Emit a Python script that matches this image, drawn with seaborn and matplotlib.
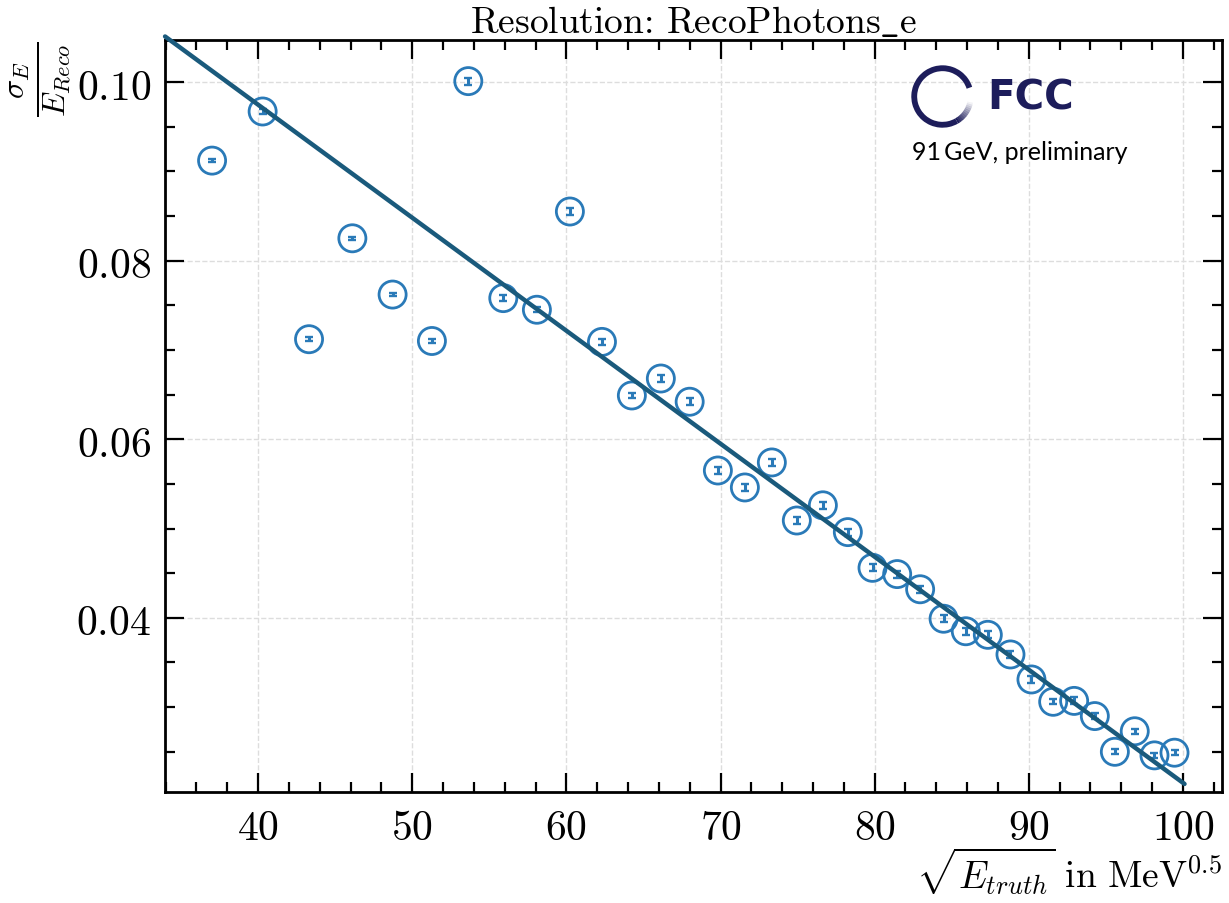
import numpy as np
import pandas as pd
import matplotlib
matplotlib.use("Agg")
import matplotlib.pyplot as plt
import seaborn as sns
from matplotlib.patches import Arc
from matplotlib.ticker import MultipleLocator, FuncFormatter

# data: sqrt(E_truth) vs relative resolution
sqrt_e = [37.02, 40.30, 43.31, 46.12, 48.73, 51.28, 53.64, 55.91, 58.09, 60.23,
          62.31, 64.25, 66.13, 68.00, 69.83, 71.58, 73.33, 74.95, 76.64, 78.26,
          79.86, 81.46, 82.95, 84.47, 85.91, 87.34, 88.81, 90.17, 91.58, 92.94,
          94.28, 95.58, 96.87, 98.15, 99.45]
resolution = [0.0912, 0.0967, 0.0712, 0.0825, 0.0762, 0.0710, 0.1001, 0.0758, 0.0745, 0.0855,
              0.0709, 0.0649, 0.0668, 0.0642, 0.0565, 0.0546, 0.0574, 0.0509, 0.0526, 0.0496,
              0.0456, 0.0449, 0.0432, 0.0399, 0.0385, 0.0381, 0.0359, 0.0331, 0.0306, 0.0307,
              0.0290, 0.0250, 0.0273, 0.0246, 0.0249]
res_err = [0.0002, 0.0003, 0.0002, 0.0002, 0.0002, 0.0002, 0.0004, 0.0003, 0.0003, 0.0004,
           0.0003, 0.0003, 0.0004, 0.0004, 0.0004, 0.0004, 0.0004, 0.0004, 0.0004, 0.0004,
           0.0004, 0.0004, 0.0004, 0.0004, 0.0004, 0.0004, 0.0004, 0.0004, 0.0003, 0.0004,
           0.0003, 0.0003, 0.0003, 0.0003, 0.0003]

# fitted line end points
fit_x = [33.97, 100.1]
fit_y = [0.1051, 0.0214]

df = pd.DataFrame({'x': sqrt_e, 'y': resolution, 'err': res_err})
fit = pd.DataFrame({'x': fit_x, 'y': fit_y})

sns.set_theme(style='ticks')
plt.rcParams['mathtext.fontset'] = 'cm'
plt.rcParams['font.family'] = ['DejaVu Serif']
plt.rcParams['text.color'] = 'black'
plt.rcParams['axes.labelcolor'] = 'black'

marker_col = '#2a7ab8'
line_col = '#1a5a7c'

fig = plt.figure(figsize=(12.29, 9.04), dpi=100)
ax = fig.add_axes([0.1343, 0.1228, 0.86, 0.8318])

ax.errorbar(df['x'], df['y'], yerr=df['err'], fmt='none', ecolor=marker_col,
            elinewidth=2.2, capsize=2.6, capthick=1.7, zorder=3)
sns.scatterplot(data=df, x='x', y='y', ax=ax, s=380, marker='o',
                facecolor='none', edgecolor=marker_col, linewidth=2.0, zorder=4)
sns.lineplot(data=fit, x='x', y='y', ax=ax, color=line_col, linewidth=3.2, zorder=5)
ax.lines[-1].set_clip_on(False)

ax.set_xlim(33.97, 102.53)
ax.set_ylim(0.0205, 0.1047)

ax.xaxis.set_major_locator(MultipleLocator(10))
ax.xaxis.set_minor_locator(MultipleLocator(2))
ax.yaxis.set_major_locator(MultipleLocator(0.02))
ax.yaxis.set_minor_locator(MultipleLocator(0.005))
ax.xaxis.set_major_formatter(FuncFormatter(lambda v, p: f'${v:.0f}$'))
ax.yaxis.set_major_formatter(FuncFormatter(lambda v, p: f'${v:.2f}$'))

ax.tick_params(which='both', direction='in', top=True, right=True, width=1.6,
               colors='black', labelcolor='black')
ax.tick_params(which='major', length=14, labelsize=30, pad=10)
ax.tick_params(which='minor', length=7)
for sp in ax.spines.values():
    sp.set_linewidth(2)
    sp.set_color('black')

ax.grid(True, which='major', linestyle='--', color='#dddddd', linewidth=1)
ax.set_axisbelow(True)

ax.set_title(r'Resolution: RecoPhotons$\_$e', fontsize=27, pad=6, color='black',
             family=['cmr10', 'DejaVu Serif'])
ax.set_xlabel(r'$\sqrt{E_{truth}}\ \mathrm{in\ MeV}^{0.5}$', fontsize=27, loc='right', labelpad=-2)
ax.set_ylabel(r'$\frac{\sigma_E}{E_{Reco}}$', fontsize=33, loc='top', labelpad=2)

# FCC logo
lax = fig.add_axes([905 / 1229, 1 - 135 / 904, 75 / 1229, 75 / 904])
lax.set_xlim(-1.3, 1.3)
lax.set_ylim(-1.3, 1.3)
lax.set_aspect('equal')
lax.axis('off')
navy = '#1d1d5b'
lax.add_patch(Arc((0, 0), 1.96, 1.96, theta1=18, theta2=300, color=navy, lw=4.2))
fade = np.linspace(1, 0.05, 12)
for i, a in enumerate(fade):
    lax.add_patch(Arc((0, 0), 1.96, 1.96, theta1=300 + i * 4, theta2=300 + (i + 1) * 4 + 0.5,
                      color=navy, lw=4.2, alpha=a))

fig.text(987 / 1229, 1 - 110 / 904, 'FCC', ha='left', va='baseline', fontsize=29,
         fontweight='bold', color=navy, family=['DejaVu Sans'])
fig.text(912 / 1229, 1 - 160 / 904, '91\u2009GeV, preliminary', ha='left', va='baseline',
         fontsize=18, color='black', family=['Lato', 'DejaVu Sans'])

fig.savefig('out.png', dpi=100)
